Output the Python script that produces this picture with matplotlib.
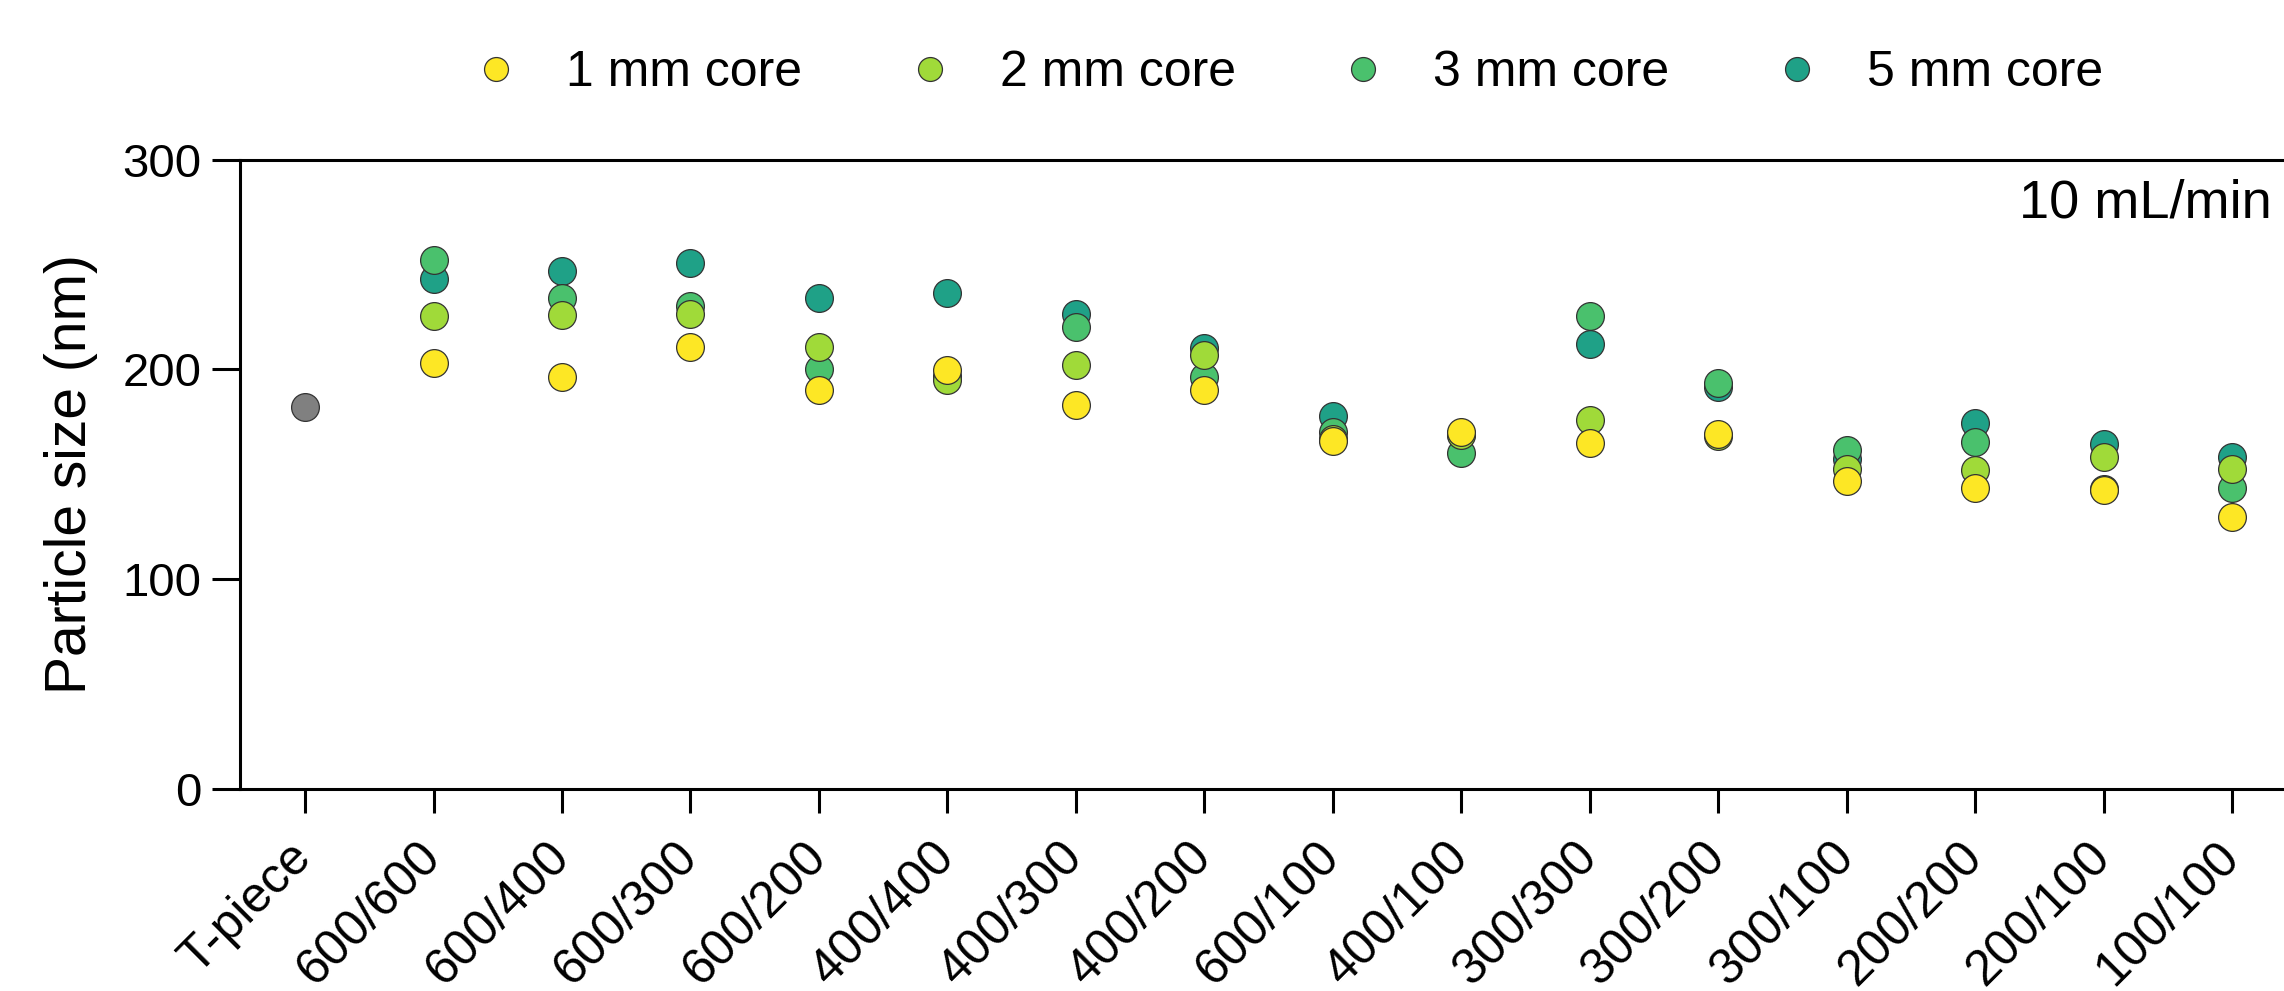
import matplotlib
matplotlib.use("Agg")
import matplotlib.pyplot as plt

plt.rcParams['font.family'] = ['Liberation Sans', 'DejaVu Sans']

# data
categories = ["T-piece", "600/600", "600/400", "600/300", "600/200", "400/400",
              "400/300", "400/200", "600/100", "400/100", "300/300", "300/200",
              "300/100", "200/200", "200/100", "100/100"]

tpiece = 182.1

# values for categories[1:]
core_5mm = [243.1, 246.9, 250.7, 234.2, 236.3, 226.4, 210.0, 177.8, 169.0,
            212.3, 191.8, 157.1, 174.6, 164.3, 158.4]
core_3mm = [252.1, 233.9, 230.2, 200.3, 197.0, 220.3, 196.5, 170.3, 160.0,
            225.5, 193.4, 161.6, 165.2, 143.0, 143.3]
core_2mm = [225.6, 225.8, 226.4, 210.5, 195.0, 202.1, 206.9, 167.0, 168.5,
            175.9, 168.3, 152.7, 152.0, 158.1, 152.7]
core_1mm = [203.2, 196.4, 210.5, 190.2, 199.7, 183.0, 190.2, 166.0, 170.0,
            165.1, 169.1, 147.0, 143.6, 142.4, 129.8]

series = [
    ("5 mm core", core_5mm, "#1fa187"),
    ("3 mm core", core_3mm, "#4ac16d"),
    ("2 mm core", core_2mm, "#a0da39"),
    ("1 mm core", core_1mm, "#fde725"),
]

fig = plt.figure(figsize=(22.84, 9.91), dpi=100)
ax = fig.add_axes([0.1051, 0.2038, 0.9006, 0.6352])

xs = list(range(1, len(categories)))
ms = 20
edge = "#333333"
handles = {}
for name, vals, col in series:
    h, = ax.plot(xs, vals, linestyle="none", marker="o", markersize=ms,
                 markerfacecolor=col, markeredgecolor=edge, markeredgewidth=0.9,
                 label=name, clip_on=False)
    handles[name] = h
ax.plot([0], [tpiece], linestyle="none", marker="o", markersize=ms,
        markerfacecolor="#808080", markeredgecolor=edge, markeredgewidth=0.9)

ax.set_xlim(-0.506, 15.506)
ax.set_ylim(0, 300)
ax.set_yticks([0, 100, 200, 300])
ax.set_xticks(range(len(categories)))
ax.set_xticklabels(categories, rotation=45, ha="right", va="center",
                   rotation_mode="anchor", fontsize=36)
ax.tick_params(axis="y", labelsize=34, length=20, width=2.2, pad=8)
ax.tick_params(axis="x", length=17, width=2.2, pad=27)

for s in ["top", "bottom", "left"]:
    ax.spines[s].set_linewidth(2.2)
ax.spines["right"].set_visible(False)

ax.set_ylabel("Particle size (nm)", fontsize=41, labelpad=17)

ax.text(0.9875, 0.93, "10 mL/min", transform=ax.transAxes, ha="right",
        va="center", fontsize=39)

order = ["1 mm core", "2 mm core", "3 mm core", "5 mm core"]
leg = fig.legend([handles[n] for n in order], order, loc="center",
                 bbox_to_anchor=(0.5635, 0.926), ncol=4, frameon=False,
                 fontsize=36, handlelength=1.0, handletextpad=0.9,
                 columnspacing=2.05, markerscale=0.86)

fig.savefig("out.png", dpi=100)
